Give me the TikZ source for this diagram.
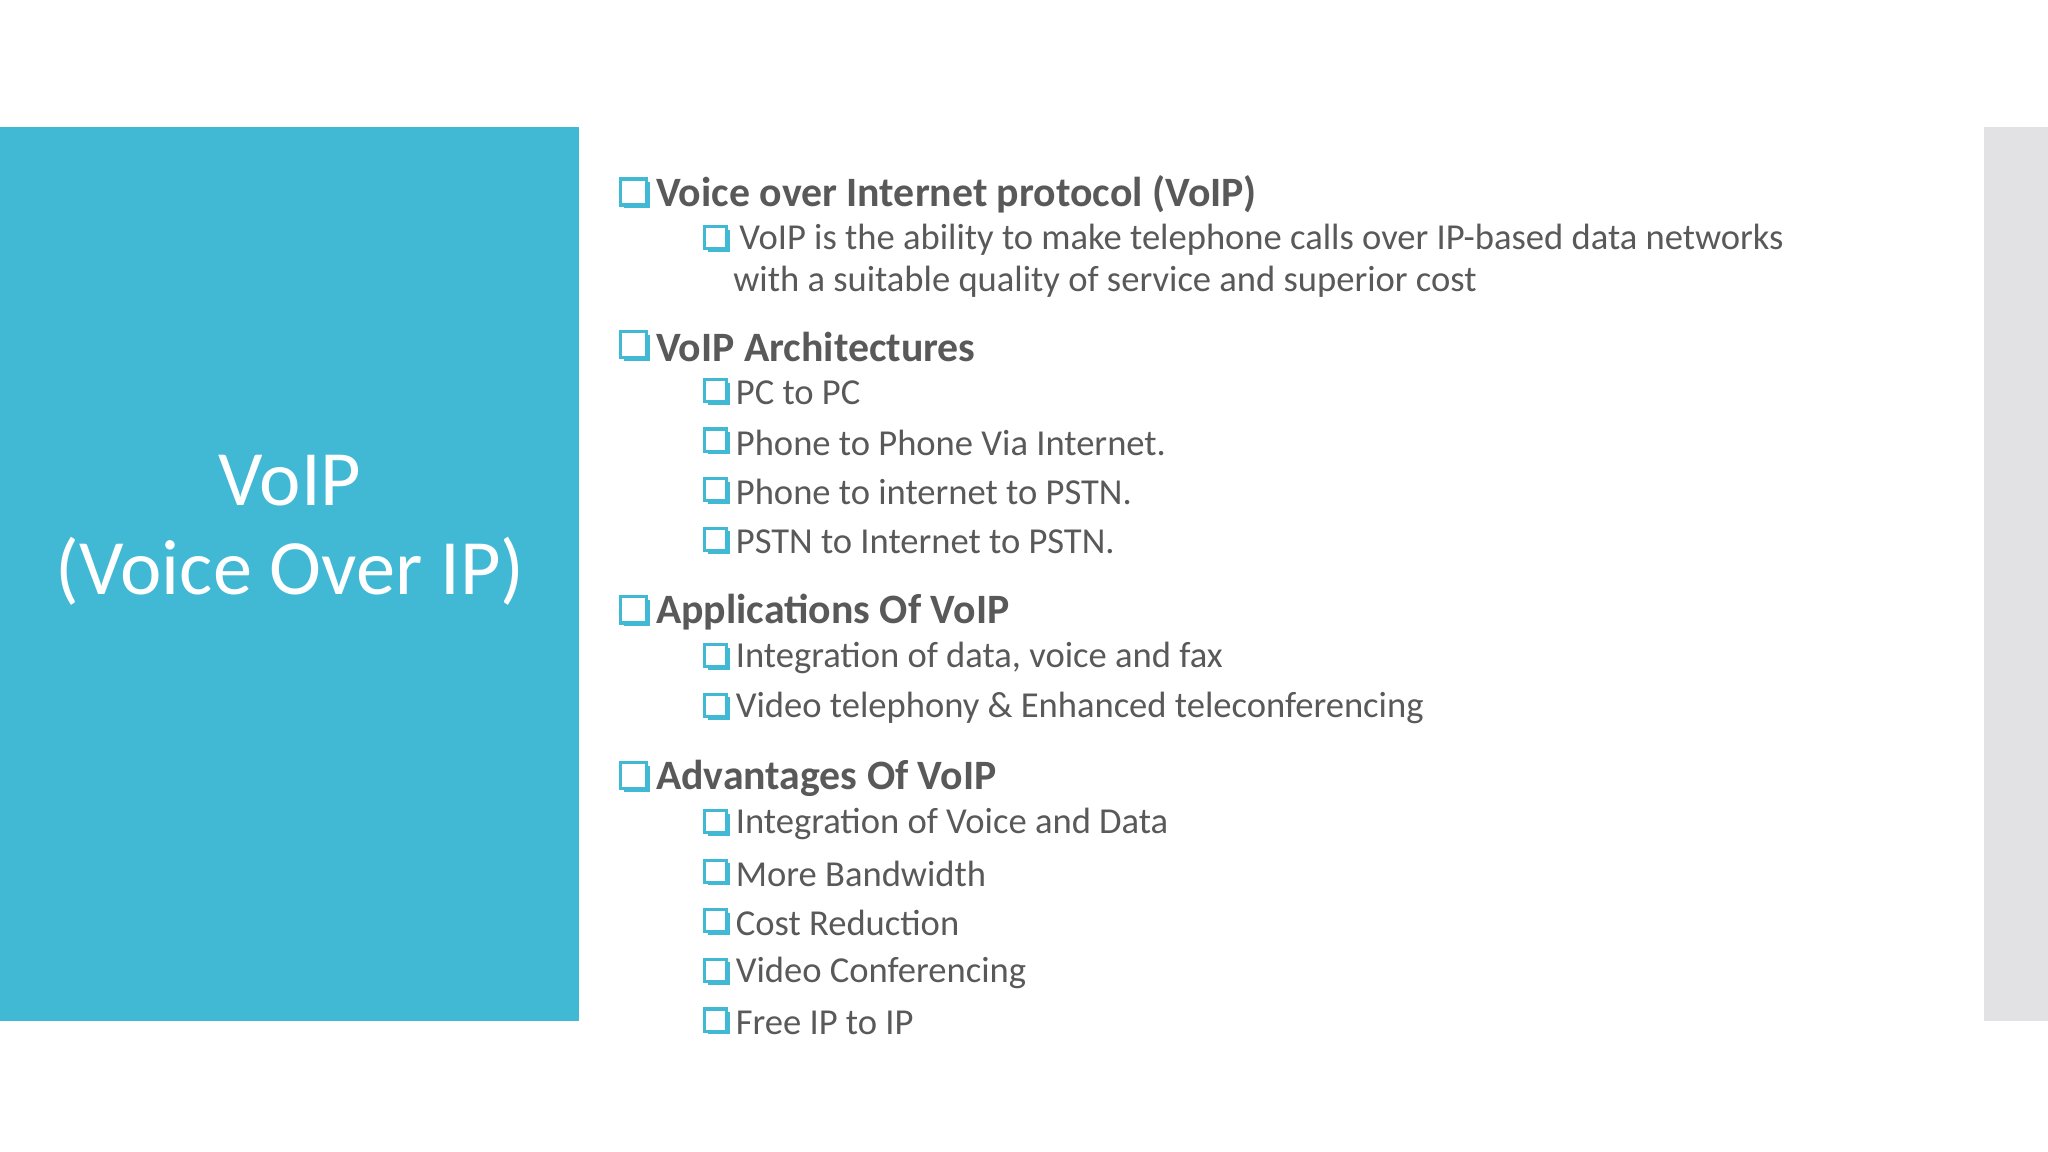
\documentclass[tikz,border=0pt]{standalone}
\usepackage{fontspec}
\setmainfont{Carlito}
\usetikzlibrary{shadows}
\definecolor{voipteal}{RGB}{66,185,212}
\definecolor{voipgray}{RGB}{89,89,89}
\definecolor{sidegray}{RGB}{226,226,228}

\begin{document}
\begin{tikzpicture}[x=0.5pt,y=0.5pt,yscale=-1,
  sqbox/.style={draw=voipteal,fill=white,line width=1.2pt,minimum size=#1,inner sep=0pt,
    drop shadow={fill=voipteal,opacity=1,shadow xshift=1.2pt,shadow yshift=-1.2pt}},
  head/.style={anchor=west,text=voipgray,font=\fontsize{16}{18}\selectfont\bfseries,inner sep=0pt},
  item/.style={anchor=west,text=voipgray,font=\fontsize{14}{16}\selectfont,inner sep=0pt,align=left}]
\useasboundingbox (0,0) rectangle (1568,882);
\fill[white] (0,0) rectangle (1568,882);

%Shapes
\fill[voipteal] (0,97) rectangle (443,782);
\fill[sidegray] (1519,97) rectangle (1568,782);

% Title
\node[text=white,font=\fontsize{30}{34}\selectfont,align=center] (title) at (222,406) {VoIP\\(Voice Over IP)};

% Headings
\foreach \y/\t [count=\i] in {149/Voice over Internet protocol (VoIP),266/VoIP Architectures,469/Applications Of VoIP,596/Advantages Of VoIP}{
  \node[sqbox=10pt] (hb\i) at (485,\y-2) {};
  \node[head] (h\i) at (502,\y) {\t};
}

% Sub items
\foreach \y/\t [count=\i] in {301/PC to PC,339/Phone to Phone Via Internet.,377/Phone to internet to PSTN.,415/PSTN to Internet to PSTN.,504/{Integration of data, voice and fax},542/Video telephony \& Enhanced teleconferencing,631/Integration of Voice and Data,669/More Bandwidth,707/Cost Reduction,745/Video Conferencing,783/Free IP to IP}{
  \node[sqbox=8.5pt] (sb\i) at (548,\y-2) {};
  \node[item] (s\i) at (563,\y) {\t};
}
\node[sqbox=8.5pt] (sb0) at (548,182) {};
\node[item,anchor=north west] (s0) at (561,171) {\,VoIP is the ability to make telephone calls over IP-based data networks\\with a suitable quality of service and superior cost};
\end{tikzpicture}
\end{document}
